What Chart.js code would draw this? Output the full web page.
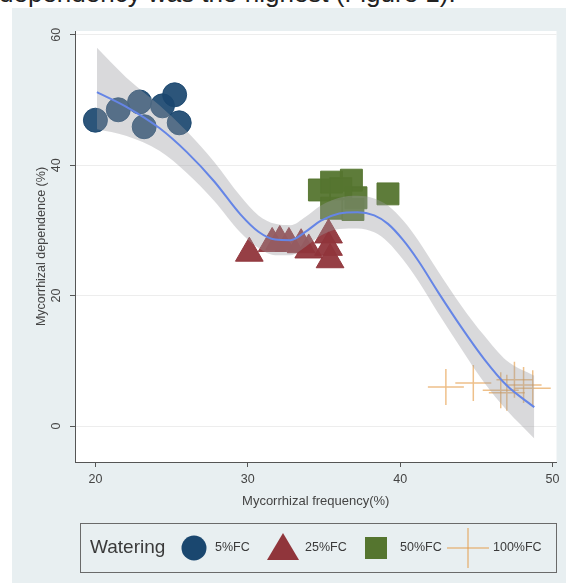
<!DOCTYPE html>
<html>
<head>
  <title>Mycorrhizal dependence vs frequency</title>
  <script src="https://cdn.jsdelivr.net/npm/chart.js"></script>
  <style>
    body {
      margin: 0;
      background: #fff;
      font-family: Arial, "Liberation Sans", sans-serif;
      width: 576px;
      height: 583px;
      overflow: hidden;
      position: relative;
    }
    .cut {
      position: absolute;
      left: -1px;
      top: -20px;
      font-size: 26px;
      line-height: 26px;
      color: #222;
      white-space: nowrap;
    }
    canvas { position: absolute; left: 0; top: 0; }
    .legend {
      position: absolute;
      left: 80px;
      top: 523px;
      width: 475px;
      height: 48px;
      border: 1px solid #6a6a6a;
      color: #3a3a3a;
    }
    .legend > * { position: absolute; }
    .legend .ttl { font-size: 19px; left: 9px; top: 12px; }
    .legend .lab { font-size: 12.5px; top: 16px; }
  </style>
</head>
<body>
  <div class="cut">dependency was the highest (Figure 1).</div>
  <canvas id="chart" width="576" height="583"></canvas>
  <div class="legend">
    <span class="ttl">Watering</span>
    <svg width="28" height="28" style="left:99px;top:10px"><circle cx="14" cy="14" r="12.5" fill="#1a476f"/></svg>
    <span class="lab" style="left:134px">5%FC</span>
    <svg width="34" height="30" style="left:185px;top:8px"><polygon points="17,1 33,28 1,28" fill="#90353b"/></svg>
    <span class="lab" style="left:224px">25%FC</span>
    <svg width="24" height="24" style="left:283px;top:12px"><rect x="1" y="1" width="22" height="22" fill="#55752f"/></svg>
    <span class="lab" style="left:319px">50%FC</span>
    <svg width="42" height="42" style="left:366px;top:3px"><line x1="0" y1="21" x2="42" y2="21" stroke="rgba(227,150,60,0.6)" stroke-width="1.5"/><line x1="21" y1="1" x2="21" y2="41" stroke="rgba(227,150,60,0.6)" stroke-width="1.5"/></svg>
    <span class="lab" style="left:412px">100%FC</span>
  </div>

  <script>
    // axis ticks
    const xTicks = [20, 30, 40, 50];
    const yTicks = [0, 20, 40, 60];

    // 5%FC (circles)
    const fc5X = [20.0, 21.5, 22.9, 23.2, 24.4, 25.2, 25.5];
    const fc5Y = [46.9, 48.5, 49.7, 45.9, 49.1, 50.8, 46.5];

    // 25%FC (triangles)
    const fc25X = [30.1, 31.6, 32.1, 32.7, 33.5, 34.0, 35.3, 35.3, 35.4];
    const fc25Y = [26.5, 28.0, 28.3, 28.0, 27.8, 27.0, 29.3, 27.4, 25.5];

    // 50%FC (squares)
    const fc50X = [34.7, 35.5, 36.8, 35.5, 37.1, 36.9, 36.1, 39.2];
    const fc50Y = [36.2, 37.4, 37.7, 33.4, 35.0, 33.2, 36.4, 35.6];

    // 100%FC (plus)
    const fc100X = [43.0, 44.8, 46.6, 47.0, 47.5, 48.1, 48.7];
    const fc100Y = [6.0, 6.6, 5.5, 5.1, 7.1, 6.3, 5.8];

    // lowess fit and its confidence band
    const fitX  = [20.1, 22.0, 24.2, 26.0, 27.8, 29.5, 30.7, 31.8, 32.8, 33.8, 34.8, 36.0, 37.2, 38.3, 39.2, 40.2, 41.2, 42.5, 44.0, 45.5, 47.0, 48.8];
    const fitY  = [51.2, 49.0, 45.7, 42.0, 37.5, 32.5, 29.8, 28.6, 28.5, 29.8, 31.5, 32.6, 32.8, 32.3, 31.0, 28.5, 25.3, 20.5, 15.2, 10.3, 6.2, 2.9];
    const fitHi = [58.0, 53.5, 49.2, 45.2, 40.5, 35.3, 32.3, 31.0, 30.8, 32.1, 33.8, 35.0, 35.3, 34.9, 33.8, 31.5, 28.4, 23.7, 18.5, 13.9, 10.0, 7.7];
    const fitLo = [45.5, 44.5, 42.2, 38.8, 34.5, 29.7, 27.3, 26.2, 26.2, 27.5, 29.2, 30.2, 30.3, 29.7, 28.2, 25.5, 22.2, 17.3, 11.9, 6.7, 2.4, -1.9];

    const pts = (xs, ys) => xs.map((x, i) => ({ x: x, y: ys[i] }));

    const frame = {
      id: "frame",
      beforeDraw(chart) {
        const { ctx, chartArea: a } = chart;
        ctx.save();
        ctx.fillStyle = "#e8eff1";
        ctx.fillRect(12, 8, 554, 575);
        ctx.fillStyle = "#ffffff";
        ctx.fillRect(a.left, a.top, a.right - a.left, a.bottom - a.top);
        ctx.restore();
      },
      afterDraw(chart) {
        const { ctx, chartArea: a } = chart;
        const ys = chart.scales.y;
        ctx.save();
        ctx.fillStyle = "#444";
        ctx.textAlign = "center";
        ctx.textBaseline = "middle";
        ctx.font = "12.5px Arial";
        yTicks.forEach(v => {
          ctx.save();
          ctx.translate(57, ys.getPixelForValue(v));
          ctx.rotate(-Math.PI / 2);
          ctx.fillText(String(v), 0, 0);
          ctx.restore();
        });
        ctx.font = "12.5px Arial";
        ctx.save();
        ctx.translate(42, (a.top + a.bottom) / 2);
        ctx.rotate(-Math.PI / 2);
        ctx.fillText("Mycorrhizal dependence (%)", 0, 0);
        ctx.restore();
        ctx.font = "13px Arial";
        ctx.fillText("Mycorrhizal frequency(%)", (a.left + a.right) / 2, 501);
        ctx.restore();
      }
    };

    new Chart(document.getElementById("chart"), {
      type: "scatter",
      data: {
        datasets: [
          {
            label: "lowess",
            data: pts(fitX, fitY),
            showLine: true,
            borderColor: "#6585e6",
            borderWidth: 2,
            pointRadius: 0,
            tension: 0.4,
            cubicInterpolationMode: "monotone",
            order: 0
          },
          {
            label: "upper",
            data: pts(fitX, fitHi),
            showLine: true,
            borderWidth: 0,
            pointRadius: 0,
            tension: 0.4,
            cubicInterpolationMode: "monotone",
            fill: "+1",
            backgroundColor: "rgba(155,155,160,0.38)",
            order: 1
          },
          {
            label: "lower",
            data: pts(fitX, fitLo),
            showLine: true,
            borderWidth: 0,
            pointRadius: 0,
            tension: 0.4,
            cubicInterpolationMode: "monotone",
            order: 1
          },
          {
            label: "5%FC",
            data: pts(fc5X, fc5Y),
            pointStyle: "circle",
            pointRadius: 12,
            backgroundColor: "rgba(26,71,111,0.92)",
            borderColor: "rgba(26,71,111,0.92)",
            borderWidth: 1,
            order: 2
          },
          {
            label: "25%FC",
            data: pts(fc25X, fc25Y),
            pointStyle: "triangle",
            pointRadius: 16,
            backgroundColor: "rgba(144,53,59,0.95)",
            borderColor: "rgba(144,53,59,0.95)",
            borderWidth: 1,
            order: 3
          },
          {
            label: "50%FC",
            data: pts(fc50X, fc50Y),
            pointStyle: "rect",
            pointRadius: 15.5,
            backgroundColor: "rgba(85,117,47,0.95)",
            borderColor: "rgba(85,117,47,0.95)",
            borderWidth: 1,
            order: 4
          },
          {
            label: "100%FC",
            data: pts(fc100X, fc100Y),
            pointStyle: "cross",
            pointRadius: 18,
            borderColor: "rgba(227,150,60,0.6)",
            borderWidth: 1.5,
            order: 5
          }
        ]
      },
      options: {
        responsive: false,
        animation: false,
        events: [],
        layout: { padding: { top: 31, right: 14, left: 0, bottom: 0 } },
        plugins: { legend: { display: false }, tooltip: { enabled: false } },
        scales: {
          x: {
            type: "linear",
            min: 18.66,
            max: 50.26,
            afterBuildTicks: s => { s.ticks = xTicks.map(v => ({ value: v })); },
            afterFit: s => { s.height = 121; },
            grid: { drawOnChartArea: false, tickLength: 5, tickColor: "#555" },
            border: { color: "#555", width: 1 },
            ticks: { color: "#444", font: { family: "Arial", size: 12.5 }, padding: 5, maxRotation: 0 }
          },
          y: {
            type: "linear",
            min: -5.52,
            max: 60.58,
            afterBuildTicks: s => { s.ticks = yTicks.map(v => ({ value: v })); },
            afterFit: s => { s.width = 75; },
            grid: { color: "#ededed", tickLength: 5, tickColor: "#555" },
            border: { color: "#555", width: 1 },
            ticks: { display: false }
          }
        }
      },
      plugins: [frame]
    });
  </script>
</body>
</html>
